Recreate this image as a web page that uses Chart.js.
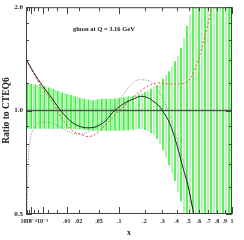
<!DOCTYPE html>
<html>
<head>
<meta charset="utf-8">
<script src="https://cdn.jsdelivr.net/npm/chart.js@4.4.1/dist/chart.umd.min.js"></script>
<style>
  html, body { margin: 0; padding: 0; background: #fff; }
  #wrap { width: 244px; height: 240px; }
</style>
</head>
<body>
<div id="wrap"><canvas id="chart"></canvas></div>
<script>
// ---- Data (x = Bjorken x, values = ratio to CTEQ6) ----
const panelTitle = 'gluon at Q = 3.16 GeV';
const yTitle = 'Ratio to CTEQ6';
const xTitle = 'x';

// uncertainty band (vertical lines)
const bandX = [2e-5, 5e-5, 1e-4, 2e-4, 3e-4, 5e-4, 7e-4, 1e-3, 1.3e-3, 1.7e-3,
  2.2e-3, 2.8e-3, 3.5e-3, 4.3e-3, 5.1e-3, 6.1e-3, 7.2e-3, 8.5e-3, 0.0099, 0.0114,
  0.013, 0.0148, 0.0168, 0.019, 0.0213, 0.0238, 0.0265, 0.0293, 0.0324, 0.0357,
  0.0392, 0.043, 0.0469, 0.0511, 0.0556, 0.0603, 0.0652, 0.0704, 0.0759, 0.0817,
  0.0877, 0.094, 0.1007, 0.1076, 0.1149, 0.1224, 0.1303, 0.1385, 0.1487, 0.161,
  0.174, 0.1877, 0.202, 0.2171, 0.2329, 0.2495, 0.2668, 0.2849, 0.3039, 0.3236,
  0.3442, 0.3656, 0.3879, 0.4111, 0.4351, 0.4602, 0.4861, 0.513, 0.5409, 0.5698,
  0.5997, 0.6306, 0.6626, 0.6956, 0.7297, 0.7649, 0.8012, 0.8386, 0.8772, 0.917,
  0.958, 0.9859];
const bandHi = [1.197, 1.195, 1.193, 1.19, 1.188, 1.185, 1.183, 1.181, 1.175, 1.17,
  1.165, 1.16, 1.153, 1.146, 1.14, 1.133, 1.127, 1.122, 1.117, 1.112,
  1.107, 1.103, 1.098, 1.093, 1.088, 1.083, 1.08, 1.077, 1.074, 1.071,
  1.07, 1.072, 1.075, 1.078, 1.08, 1.08, 1.08, 1.08, 1.08, 1.081,
  1.083, 1.085, 1.087, 1.09, 1.092, 1.094, 1.096, 1.098, 1.102, 1.108,
  1.114, 1.12, 1.13, 1.142, 1.155, 1.17, 1.185, 1.2, 1.235, 1.27,
  1.3, 1.34, 1.39, 1.44, 1.52, 1.62, 1.76, 1.9, 2.2, 2.2,
  2.2, 2.2, 2.2, 2.2, 2.2, 2.2, 2.2, 2.2, 2.2, 2.2,
  2.2, 2.2];
const bandLo = [0.887, 0.887, 0.887, 0.887, 0.887, 0.887, 0.887, 0.887, 0.887, 0.887,
  0.887, 0.887, 0.887, 0.887, 0.887, 0.887, 0.887, 0.887, 0.887, 0.887,
  0.887, 0.886, 0.885, 0.884, 0.884, 0.883, 0.882, 0.88, 0.879, 0.877,
  0.876, 0.875, 0.875, 0.875, 0.875, 0.875, 0.875, 0.875, 0.875, 0.875,
  0.875, 0.875, 0.876, 0.876, 0.877, 0.878, 0.879, 0.88, 0.882, 0.884,
  0.886, 0.885, 0.88, 0.872, 0.862, 0.85, 0.83, 0.8, 0.77, 0.73,
  0.695, 0.66, 0.625, 0.58, 0.545, 0.505, 0.45, 0.45, 0.45, 0.45,
  0.45, 0.45, 0.45, 0.45, 0.45, 0.45, 0.45, 0.45, 0.45, 0.45,
  0.45, 0.45];

// solid black curve
const blackX = [1e-5, 2e-4, 1e-3, 2.5e-3, 5e-3, 7e-3, 0.01, 0.014, 0.02, 0.03,
  0.04, 0.05, 0.07, 0.08, 0.1, 0.12, 0.15, 0.18, 0.2, 0.23,
  0.25, 0.28, 0.3, 0.35, 0.4, 0.45, 0.5, 0.54, 0.6];
const blackR = [1.414, 1.29, 1.18, 1.105, 1.03, 0.992, 0.955, 0.923, 0.902, 0.891,
  0.893, 0.905, 0.95, 0.985, 1.025, 1.055, 1.08, 1.1, 1.098, 1.08,
  1.06, 1.03, 1.0, 0.917, 0.8, 0.685, 0.595, 0.515, 0.43];

// red dashed curve
const redX = [1e-5, 2e-4, 1e-3, 3e-3, 7e-3, 0.014, 0.024, 0.032, 0.043, 0.056,
  0.08, 0.1, 0.14, 0.18, 0.23, 0.28, 0.35, 0.43, 0.48, 0.53,
  0.59, 0.66, 0.74, 0.8];
const redR = [1.41, 1.28, 1.158, 1.069, 0.95, 0.875, 0.85, 0.84, 0.853, 0.887,
  0.95, 1.0, 1.075, 1.14, 1.19, 1.205, 1.195, 1.195, 1.21, 1.26,
  1.4, 1.64, 2.0, 2.3];

// grey dotted curve
const grayX = [1e-5, 2e-5, 3e-5, 5e-5, 1e-4, 2e-4, 5e-4, 1e-3, 3e-3, 7e-3,
  0.014, 0.024, 0.032, 0.043, 0.056, 0.08, 0.11, 0.14, 0.175, 0.225,
  0.285, 0.33, 0.38, 0.43, 0.485, 0.52, 0.545, 0.6];
const grayR = [0.45, 0.52, 0.68, 0.78, 0.85, 0.89, 0.92, 0.925, 0.92, 0.89,
  0.86, 0.855, 0.87, 0.9, 0.93, 1.0, 1.1, 1.19, 1.23, 1.22,
  1.12, 1.02, 0.89, 0.76, 0.65, 0.55, 0.5, 0.42];

// reference line at 1
const unityX = [1e-5, 1];
const unityR = [1, 1];

// axis ticks
const xTickValues = [1e-5, 1e-4, 1e-3, 0.01, 0.02, 0.05, 0.1, 0.2, 0.3, 0.4, 0.5, 0.6, 0.7, 0.8, 0.9, 1];
const xTickLabels = ['10⁻⁵', '10⁻⁴', '10⁻³', '.01', '.02', '.05', '.1', '.2', '.3', '.4', '.5', '.6', '.7', '.8', '.9', '1'];
const xMajorTicks = [1e-5, 1e-4, 1e-3, 0.01, 0.1, 1];
const xMinorTicks = [2e-5, 5e-5, 2e-4, 5e-4, 2e-3, 5e-3, 0.02, 0.05, 0.2, 0.3, 0.4, 0.5, 0.6, 0.7, 0.8, 0.9];
const yTickValues = [0.5, 1, 2];
const yMinorTicks = [0.6, 0.7, 0.8, 0.9, 1.2, 1.4, 1.6, 1.8];

// ---- x axis scaled as x^(1/3) ----
class CubeRootScale extends Chart.LinearScale {
  static id = 'cuberoot';
  static defaults = Chart.LinearScale.defaults;
  getPixelForValue(value) {
    const a = Math.cbrt(this.min), b = Math.cbrt(this.max);
    return this.getPixelForDecimal((Math.cbrt(value) - a) / (b - a));
  }
  getValueForPixel(pixel) {
    const a = Math.cbrt(this.min), b = Math.cbrt(this.max);
    const t = a + this.getDecimalForPixel(pixel) * (b - a);
    return t * t * t;
  }
}
Chart.register(CubeRootScale);

const serif = '"Liberation Serif", "DejaVu Serif", serif';

// frame, inward ticks and the panel caption
const frameAndTicks = {
  id: 'frameAndTicks',
  afterDatasetsDraw(chart) {
    const { ctx, chartArea: a, scales } = chart;
    const xs = scales.x, ys = scales.y;
    ctx.save();
    ctx.strokeStyle = '#444';
    ctx.lineWidth = 1;
    ctx.strokeRect(a.left + 0.5, a.top + 0.5, a.right - a.left - 1, a.bottom - a.top - 1);
    ctx.beginPath();
    const xTick = (v, len) => {
      const p = Math.round(xs.getPixelForValue(v)) + 0.5;
      ctx.moveTo(p, a.bottom); ctx.lineTo(p, a.bottom - len);
      ctx.moveTo(p, a.top); ctx.lineTo(p, a.top + len);
    };
    const yTick = (v, len) => {
      const p = Math.round(ys.getPixelForValue(v)) + 0.5;
      ctx.moveTo(a.left, p); ctx.lineTo(a.left + len, p);
      ctx.moveTo(a.right, p); ctx.lineTo(a.right - len, p);
    };
    xMajorTicks.forEach(v => xTick(v, 7));
    xMinorTicks.forEach(v => xTick(v, 4));
    yTickValues.forEach(v => yTick(v, 6));
    yMinorTicks.forEach(v => yTick(v, 3));
    ctx.stroke();

    ctx.fillStyle = '#222';
    ctx.font = 'bold 6.5px ' + serif;
    ctx.textBaseline = 'middle';
    ctx.textAlign = 'left';
    ctx.fillText(panelTitle, 73, 29);
    ctx.restore();
  }
};

const pts = (xs, ys) => xs.map((x, i) => ({ x: x, y: ys[i] }));

new Chart(document.getElementById('chart'), {
  type: 'bar',
  data: {
    datasets: [
      {
        type: 'line', label: 'solid', data: pts(blackX, blackR),
        borderColor: '#222', borderWidth: 1, pointRadius: 0,
        cubicInterpolationMode: 'monotone', clip: 0, order: 1
      },
      {
        type: 'line', label: 'dashed', data: pts(redX, redR),
        borderColor: '#f04848', borderWidth: 1, borderDash: [2, 2], pointRadius: 0,
        cubicInterpolationMode: 'monotone', clip: 0, order: 2
      },
      {
        type: 'line', label: 'dotted', data: pts(grayX, grayR),
        borderColor: '#8a8a8a', borderWidth: 1, borderDash: [1, 1.5], pointRadius: 0,
        cubicInterpolationMode: 'monotone', clip: 0, order: 3
      },
      {
        type: 'line', label: 'unity', data: pts(unityX, unityR),
        borderColor: '#555', borderWidth: 1.5, pointRadius: 0, clip: 0, order: 4
      },
      {
        type: 'bar', label: 'band',
        data: bandX.map((x, i) => ({ x: x, y: [bandLo[i], bandHi[i]] })),
        backgroundColor: bandX.map((_, i) => (i % 2 ? '#a2f7a2' : '#3cef3c')),
        borderWidth: 0, barThickness: 1, clip: 0, order: 10
      }
    ]
  },
  options: {
    responsive: true,
    maintainAspectRatio: false,
    animation: false,
    layout: { padding: { left: 0, right: 12, top: 6, bottom: 0 } },
    plugins: { legend: { display: false }, tooltip: { enabled: false } },
    scales: {
      x: {
        type: 'cuberoot', min: 1e-5, max: 1, offset: false,
        afterBuildTicks: s => { s.ticks = xTickValues.map(v => ({ value: v })); },
        afterFit: s => { s.height = 26; },
        grid: { display: false, drawTicks: false },
        border: { display: false },
        ticks: {
          callback: (v, i) => xTickLabels[i],
          autoSkip: false, maxRotation: 0, minRotation: 0, padding: 4,
          color: '#222', font: { family: serif, size: 6, weight: 'bold' }
        },
        title: {
          display: true, text: xTitle, color: '#222',
          font: { family: serif, size: 8, weight: 'bold' }, padding: { top: 0, bottom: 2 }
        }
      },
      y: {
        type: 'logarithmic', min: 0.5, max: 2,
        afterBuildTicks: s => { s.ticks = yTickValues.map(v => ({ value: v })); },
        afterFit: s => { s.width = 26; },
        grid: { display: false, drawTicks: false },
        border: { display: false },
        ticks: {
          callback: v => Number(v).toFixed(1),
          autoSkip: false, padding: 3,
          color: '#222', font: { family: serif, size: 7, weight: 'bold' }
        },
        title: {
          display: true, text: yTitle, color: '#222',
          font: { family: serif, size: 9.5, weight: 'bold' }, padding: { top: 1.3, bottom: 0 }
        }
      }
    }
  },
  plugins: [frameAndTicks]
});
</script>
</body>
</html>
